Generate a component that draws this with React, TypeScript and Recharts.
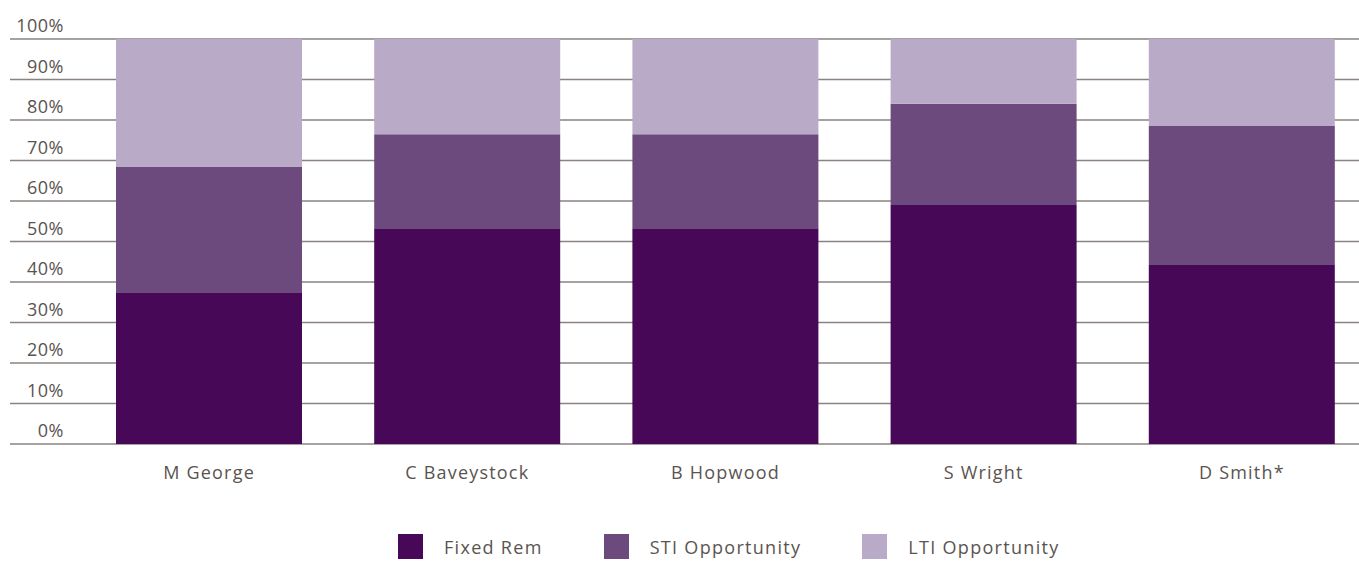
import { Bar, BarChart, CartesianGrid, Legend, XAxis, YAxis } from 'recharts';

const names = ['M George', 'C Baveystock', 'B Hopwood', 'S Wright', 'D Smith*'];
const fixedRem = [37.5, 53.3, 53.3, 59.0, 44.2];
const stiOpportunity = [30.9, 23.2, 23.2, 25.0, 34.3];
const ltiOpportunity = [31.6, 23.5, 23.5, 16.0, 21.5];
const yTicks = [0, 10, 20, 30, 40, 50, 60, 70, 80, 90, 100];

const series = [
  { key: 'fixed', label: 'Fixed Rem', color: '#470857' },
  { key: 'sti', label: 'STI Opportunity', color: '#6d4a7e' },
  { key: 'lti', label: 'LTI Opportunity', color: '#b9abc8' },
];

const data = names.map((name, i) => ({
  name,
  fixed: fixedRem[i],
  sti: stiOpportunity[i],
  lti: ltiOpportunity[i],
}));

const FONT = '"Open Sans", sans-serif';
const TEXT = '#5a5451';

// labels sit above their gridline, right aligned
const renderYTick = (props: any) => {
  const { y, payload } = props;
  return (
    <text
      key={payload.value}
      x={64}
      y={Number(y) - 7}
      textAnchor="end"
      fontSize={18}
      fill={TEXT}
      fontFamily={FONT}
      letterSpacing={0.5}
    >
      {payload.value}%
    </text>
  );
};

function LegendBox() {
  return (
    <div
      style={{
        display: 'flex',
        alignItems: 'center',
        paddingLeft: 389,
        paddingTop: 30,
        fontFamily: FONT,
        fontSize: 18,
        color: TEXT,
        letterSpacing: 1.3,
      }}
    >
      {series.map((s) => (
        <span
          key={s.key}
          style={{ display: 'inline-flex', alignItems: 'center', marginRight: 61 }}
        >
          <span
            style={{
              display: 'inline-block',
              width: 25,
              height: 25,
              background: s.color,
              marginRight: 21,
            }}
          />
          {s.label}
        </span>
      ))}
    </div>
  );
}

export default function App() {
  return (
    <div
      style={{
        position: 'absolute',
        left: 0,
        top: 0,
        width: 1359,
        height: 561,
        overflow: 'hidden',
        background: '#fff',
      }}
    >
      <BarChart
        width={1371}
        height={561}
        data={data}
        margin={{ top: 39, right: 0, left: 9, bottom: 0 }}
        barSize={186}
      >
        <CartesianGrid vertical={false} stroke="#8a837f" strokeWidth={1.3} />
        <YAxis
          width={1}
          domain={[0, 100]}
          ticks={yTicks}
          interval={0}
          axisLine={false}
          tickLine={false}
          tick={renderYTick}
        />
        <XAxis
          dataKey="name"
          height={60}
          padding={{ left: 70, right: 0 }}
          axisLine={false}
          tickLine={false}
          tickSize={0}
          tickMargin={22}
          tick={{ fontSize: 18, fill: TEXT, fontFamily: FONT, letterSpacing: 1.2 }}
        />
        <Legend verticalAlign="bottom" height={57} content={<LegendBox />} />
        {series.map((s) => (
          <Bar
            key={s.key}
            dataKey={s.key}
            name={s.label}
            stackId="a"
            fill={s.color}
            isAnimationActive={false}
          />
        ))}
      </BarChart>
    </div>
  );
}
